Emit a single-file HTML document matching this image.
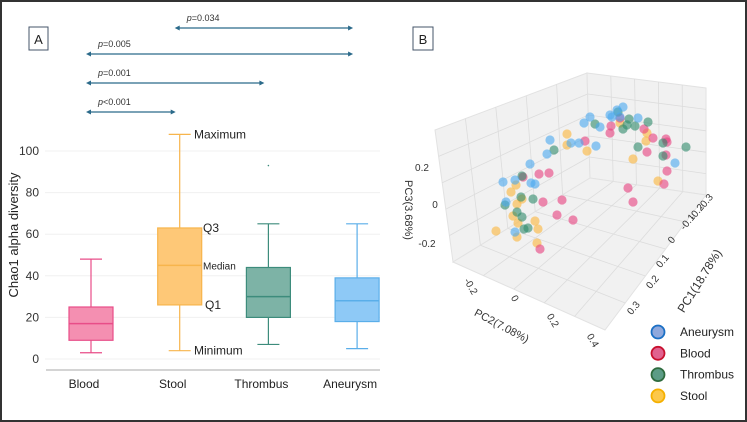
<!DOCTYPE html>
<html><head><meta charset="utf-8">
<style>
html,body{margin:0;padding:0;background:#fff;}
svg{display:block;font-family:"Liberation Sans",sans-serif;}
</style></head>
<body>
<svg id="fig" width="747" height="422" viewBox="0 0 747 422">
<rect x="1" y="1" width="745" height="420" fill="#fff" stroke="#333" stroke-width="2"/>
<g id="panelA"></g>
<g id="panelB"></g>
</svg>
<script>
// ---------- Panel A data ----------
const categories = ["Blood","Stool","Thrombus","Aneurysm"];
const mins   = [3, 4, 7, 5];
const q1s    = [9, 26, 20, 18];
const medians= [17, 45, 30, 28];
const q3s    = [25, 63, 44, 39];
const maxs   = [48, 108, 65, 65];
const outliers = [null, null, 93, null];
const yTicks = [0,20,40,60,80,100];
const pLabels = ["p<0.001","p=0.001","p=0.005","p=0.034"];
const pFrom = [0,0,0,1];
const pTo   = [1,2,3,3];

// ---------- Panel B data ----------
const groups = ["Stool","Blood","Thrombus","Aneurysm"];
const stoolPc1=[0,0,0,-0.1,-0.1,0,-0.1,0.1,0.1,0.1,0.1,0.1,0.1,0.1,0.1,0.1,0.1,0.1,0];
const stoolPc2=[0.035,0.035,0.135,0.385,0.38,0.365,0.44,-0.17,-0.195,-0.165,-0.14,-0.185,-0.16,-0.075,-0.06,-0.27,-0.165,-0.065,0.3];
const stoolPc3=[0.184,0.129,0.139,0.244,0.202,0.191,0.026,-0.068,-0.113,-0.161,-0.126,-0.229,-0.254,-0.21,-0.244,-0.338,-0.326,-0.316,0.345];
const bloodPc1=[0,0,0,-0.1,-0.1,-0.1,-0.1,-0.1,-0.1,-0.1,-0.1,0,0,0,0,0.1,0,0.1,0,0,0.1,0.1];
const bloodPc2=[0.3,0.255,0.25,0.37,0.415,0.48,0.485,0.385,0.48,0.485,0.47,0.34,0.365,0.125,-0.055,-0.055,0.01,-0.035,-0.015,0.065,-0.05,-0.135];
const bloodPc3=[0.37,0.312,0.275,0.258,0.231,0.252,0.239,0.149,0.172,0.094,0.023,0.036,-0.024,0.185,-0.047,0.033,-0.156,-0.099,-0.241,-0.234,-0.34,-0.014];
const thrPc1=[0,0,-0.1,0,0,0,0,0,0,-0.1,-0.1,-0.1,0.1,0.1,0.1,0.1,0.1,0.1,0.1,0.1];
const thrPc2=[0.29,0.345,0.39,0.335,0.375,0.315,0.175,-0.03,0.39,0.465,0.58,0.465,-0.14,-0.085,-0.225,-0.145,-0.165,-0.14,-0.13,-0.11];
const thrPc3=[0.396,0.383,0.301,0.349,0.36,0.321,0.29,0.078,0.261,0.226,0.252,0.161,-0.011,-0.104,-0.19,-0.118,-0.201,-0.216,-0.272,-0.259];
const anePc1=[0,0,0,0,0,0,0,0,0,0,0,0,0.1,-0.1,0.1,0.1,0.1,0.1,0.1,0.1,0,0];
const anePc2=[0.315,0.285,0.25,0.3,0.39,0.15,0.12,0.2,-0.05,0.095,0.18,-0.065,-0.1,0.525,-0.235,-0.175,-0.095,-0.075,-0.22,-0.175,0.055,0.26];
const anePc3=[0.431,0.404,0.365,0.375,0.406,0.315,0.273,0.285,0.12,0.163,0.182,0.044,0.065,0.15,-0.079,-0.045,-0.028,-0.025,-0.173,-0.305,0.147,0.359];

const NS="http://www.w3.org/2000/svg";
function mk(tag, attrs, parent, text){
  const e=document.createElementNS(NS,tag);
  for(const k in attrs) e.setAttribute(k,attrs[k]);
  if(text!==undefined) e.textContent=text;
  parent.appendChild(e); return e;
}
const A=document.getElementById('panelA');
const B=document.getElementById('panelB');

// ---------- Panel A ----------
const yScale=v=>359-v*2.08;
const xScale=i=>91+i*88.7;
const fills=["#f48fb1","#fec877","#7db3a6","#8ec9f6"];
const strokes=["#e84d88","#f7b54c","#3d8c7c","#5aaee9"];

const lbA=mk('rect',{x:29,y:27,width:19,height:23,fill:'#fff',stroke:'#44546a','stroke-width':1},A);


const lA=mk('text',{x:38.5,y:44,'font-size':13,'text-anchor':'middle',fill:'#222'},A,'A');



yTicks.forEach(t=>{
  const g=mk('line',{x1:45,x2:380,y1:yScale(t),y2:yScale(t),stroke:'#f0f0f0','stroke-width':1},A);
  
  
  const tl=mk('text',{x:39,y:yScale(t)+4,'font-size':12,'text-anchor':'end',fill:'#333'},A,String(t));
  
  
});
const ax=mk('line',{x1:46,x2:380,y1:370,y2:370,stroke:'#aaa','stroke-width':1},A);


const yt=mk('text',{x:0,y:0,'font-size':13,'text-anchor':'middle',fill:'#222',transform:'translate(18,235) rotate(-90)'},A,'Chao1 alpha diversity');



categories.forEach((c,i)=>{
  const cx=xScale(i), w=44, col=strokes[i];
  const g=mk('g',{},A);
  
  
  mk('line',{x1:cx,x2:cx,y1:yScale(maxs[i]),y2:yScale(q3s[i]),stroke:col,'stroke-width':1.2},g);
  mk('line',{x1:cx,x2:cx,y1:yScale(q1s[i]),y2:yScale(mins[i]),stroke:col,'stroke-width':1.2},g);
  mk('line',{x1:cx-11,x2:cx+11,y1:yScale(maxs[i]),y2:yScale(maxs[i]),stroke:col,'stroke-width':1.2},g);
  mk('line',{x1:cx-11,x2:cx+11,y1:yScale(mins[i]),y2:yScale(mins[i]),stroke:col,'stroke-width':1.2},g);
  mk('rect',{x:cx-w/2,y:yScale(q3s[i]),width:w,height:yScale(q1s[i])-yScale(q3s[i]),fill:fills[i],stroke:col,'stroke-width':1.2},g);
  mk('line',{x1:cx-w/2,x2:cx+w/2,y1:yScale(medians[i]),y2:yScale(medians[i]),stroke:col,'stroke-width':1.5},g);
  if(outliers[i]!==null){
    const o=mk('circle',{cx:cx,cy:yScale(outliers[i]),r:0.8,fill:col},A);
    
    
  }
  const cl=mk('text',{x:cx-7,y:388,'font-size':12,'text-anchor':'middle',fill:'#222'},A,c);
  
  
});
// annotations on stool box
const sx=xScale(1);
[["Maximum",maxs[1],194,12],["Q3",q3s[1],203,12],["Median",medians[1],203,10],["Q1",q1s[1],205,12],["Minimum",mins[1],194,12]].forEach(a=>{
  const t=mk('text',{x:a[2],y:yScale(a[1])+4,'font-size':a[3],fill:'#222'},A,a[0]);
  
  
});
// significance brackets
const bracketY=[112,83,54,28];
pLabels.forEach((p,k)=>{
  const x1=xScale(pFrom[k])-5, x2=xScale(pTo[k])-4, y=bracketY[k];
  const g=mk('g',{},A);
  
  
  mk('line',{x1:x1+3,x2:x2-3,y1:y,y2:y,stroke:'#2b6a8a','stroke-width':1.2},g);
  mk('path',{d:`M${x1},${y} l5,-2.5 v5 z M${x2},${y} l-5,-2.5 v5 z`,fill:'#2b6a8a'},g);
  const t=mk('text',{x:x1+12,y:y-7,'font-size':9,fill:'#333'},g);
  const it=mk('tspan',{'font-style':'italic'},t,'p');
  mk('tspan',{},t,p.slice(1));
});

// ---------- Panel B ----------
const O=[560,168], e1=[-100,170], e2=[200,80], e3=[0,-200];
const proj=(a,b,c)=>[O[0]+a*e1[0]+b*e2[0]+c*e3[0], O[1]+a*e1[1]+b*e2[1]+c*e3[1]];

const lbB=mk('rect',{x:413,y:27,width:20,height:23,fill:'#fff',stroke:'#44546a','stroke-width':1},B);


const lB=mk('text',{x:423,y:44,'font-size':13,'text-anchor':'middle',fill:'#222'},B,'B');



function pane(pts,name){
  const p=mk('polygon',{points:pts.map(q=>q.join(',')).join(' '),fill:'#f1f1f1',stroke:'#e2e2e2','stroke-width':1},B);
  
  
  // grid lines
  const [a,b,c,d]=pts;
  for(let k=1;k<5;k++){
    const t=k/5;
    const L=(p1,p2)=>[p1[0]+(p2[0]-p1[0])*t,p1[1]+(p2[1]-p1[1])*t];
    const u1=L(a,b),u2=L(d,c),v1=L(a,d),v2=L(b,c);
    mk('line',{x1:u1[0],y1:u1[1],x2:u2[0],y2:u2[1],stroke:'#dcdcdc','stroke-width':0.8},B);
    mk('line',{x1:v1[0],y1:v1[1],x2:v2[0],y2:v2[1],stroke:'#dcdcdc','stroke-width':0.8},B);
  }
}
pane([[435,130],[587,73],[590,178],[453,262]],'left-wall-pane');
pane([[587,73],[706,88],[706,195],[590,178]],'back-wall-pane');
pane([[453,262],[590,178],[706,195],[605,330]],'floor-pane');

// points
const colorsB={Stool:'#fbb53a',Blood:'#e8407f',Thrombus:'#2e8b6a',Aneurysm:'#4aa8f0'};
const dataB={Stool:[stoolPc1,stoolPc2,stoolPc3],Blood:[bloodPc1,bloodPc2,bloodPc3],Thrombus:[thrPc1,thrPc2,thrPc3],Aneurysm:[anePc1,anePc2,anePc3]};
groups.forEach(gn=>{
  const [a,b,c]=dataB[gn];
  a.forEach((_,i)=>{
    const p=proj(a[i],b[i],c[i]);
    const d=mk('circle',{cx:p[0].toFixed(1),cy:p[1].toFixed(1),r:4.6,fill:colorsB[gn],'fill-opacity':0.6},B);
    
    
  });
});

// axis tick labels
function lab(x,y,txt,rot,size,name){
  const t=mk('text',{x:0,y:0,'font-size':size,'text-anchor':'middle',fill:'#333',transform:`translate(${x},${y}) rotate(${rot})`},B,txt);
  
  
}
lab(422,171,'0.2',0,10,'pc3-tick-label');lab(435,208,'0',0,10,'pc3-tick-label');lab(427,247,'-0.2',0,10,'pc3-tick-label');
lab(468,288,'-0.2',60,10,'pc2-tick-label');lab(512,300,'0',60,10,'pc2-tick-label');lab(550,322,'0.2',60,10,'pc2-tick-label');lab(590,342,'0.4',60,10,'pc2-tick-label');
lab(708,204,'-0.3',-50,10,'pc1-tick-label');lab(699,214,'-0.2',-50,10,'pc1-tick-label');lab(690,224,'-0.1',-50,10,'pc1-tick-label');lab(674,242,'0',-50,10,'pc1-tick-label');lab(665,263,'0.1',-50,10,'pc1-tick-label');lab(655,284,'0.2',-50,10,'pc1-tick-label');lab(636,310,'0.3',-50,10,'pc1-tick-label');
lab(405,210,'PC3(3.68%)',90,11,'pc3-axis-title');
lab(500,329,'PC2(7.08%)',28,11,'pc2-axis-title');
lab(703,283,'PC1(18.78%)',-58,12,'pc1-axis-title');

// legend
const legCols=[["Aneurysm","#8fa8dc","#1a6fc4"],["Blood","#e0628f","#c8102e"],["Thrombus","#5c9c86","#2e6b3e"],["Stool","#fcc84a","#f5b000"]];
legCols.forEach((l,i)=>{
  const y=332+i*21.3;
  const g=mk('g',{},B);
  
  
  mk('circle',{cx:658,cy:y,r:6.5,fill:l[1],stroke:l[2],'stroke-width':1.8},g);
  mk('text',{x:680,y:y+4,'font-size':12,fill:'#222'},g,l[0]);
});
</script>
</body></html>
